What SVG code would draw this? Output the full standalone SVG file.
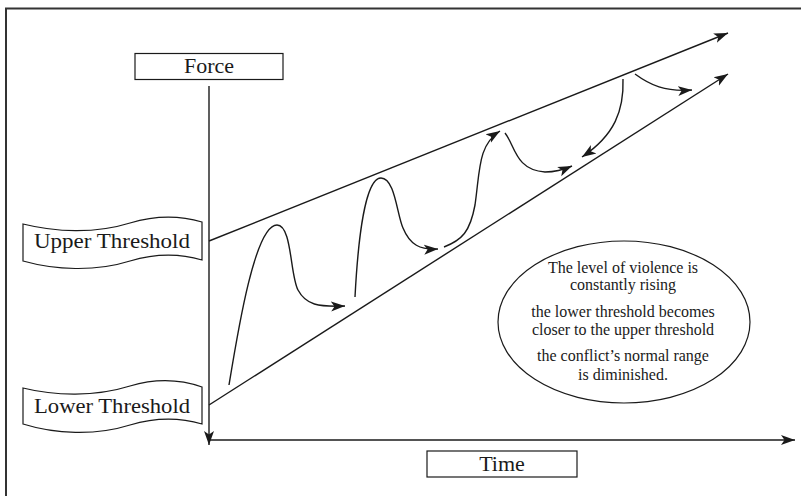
<svg xmlns="http://www.w3.org/2000/svg" width="801" height="496" viewBox="0 0 801 496">
<style>
.ln{fill:none;stroke:#1a1a1a;stroke-width:1.4}
.box{fill:#fff;stroke:#1a1a1a;stroke-width:1.2}
.lbl{font-family:"Liberation Serif","Times New Roman",serif;font-size:22px;fill:#1a1a1a;text-anchor:middle}
.note{font-family:"Liberation Serif","Times New Roman",serif;font-size:16px;fill:#1a1a1a;text-anchor:middle}
</style>
<defs>
<marker id="ah" markerUnits="userSpaceOnUse" markerWidth="16" markerHeight="12" refX="14" refY="5" orient="auto" viewBox="0 0 16 10">
<path d="M0,0 L14,5 L0,10 L3.5,5 Z" fill="#1a1a1a"/>
</marker>
</defs>
<rect x="6" y="8.5" width="900" height="600" fill="none" stroke="#333" stroke-width="2"/>
<g id="connectors">
<path class="ln" d="M209,86 L209,445" marker-end="url(#ah)"/>
<path class="ln" d="M209,440 L795,440" marker-end="url(#ah)"/>
<path class="ln" d="M209,241 L728,33" marker-end="url(#ah)"/>
<path class="ln" d="M209,405 L728,74" marker-end="url(#ah)"/>
<path class="ln" d="M229,385 C238,330 255,225 277,225 C292,225 290,275 298,290 C306,305 318,307 345,306" marker-end="url(#ah)"/>
<path class="ln" d="M355,297 C358,240 365,178 381,178 C395,178 397,215 403,228 C410,245 420,250 438,249" marker-end="url(#ah)"/>
<path class="ln" d="M444,247 C462,240 470,232 475,205 C480,170 478,145 500,131" marker-end="url(#ah)"/>
<path class="ln" d="M505,133 C515,145 515,170 545,172 C555,172 563,170 572,166" marker-end="url(#ah)"/>
<path class="ln" d="M623,79 C624,110 615,135 582,157" marker-end="url(#ah)"/>
<path class="ln" d="M635,74 C650,85 665,92 692,90" marker-end="url(#ah)"/>
</g>
<g id="force">
<rect class="box" x="135" y="53.5" width="148" height="26"/>
<text class="lbl" x="209" y="73">Force</text>
</g>
<g id="time">
<rect class="box" x="427" y="451" width="150" height="26"/>
<text class="lbl" x="502" y="471">Time</text>
</g>
<g id="upper">
<path class="box" d="M23,224 C55,232 95,234 130,223 C160,214 185,217 202,222 L202,260 C185,255 160,252 130,261 C95,272 55,270 23,261 Z"/>
<text class="lbl" x="112" y="248" textLength="156" lengthAdjust="spacingAndGlyphs">Upper Threshold</text>
</g>
<g id="lower">
<path class="box" d="M23,388 C55,396 95,397 130,386 C160,377 185,381 202,387 L202,424 C185,419 160,416 130,425 C95,436 55,434 23,424 Z"/>
<text class="lbl" x="112" y="413" textLength="156" lengthAdjust="spacingAndGlyphs">Lower Threshold</text>
</g>
<g id="note">
<ellipse cx="624" cy="322" rx="126" ry="81" fill="none" stroke="#1a1a1a" stroke-width="1.2"/>
<text class="note" x="623" y="273">The level of violence is</text>
<text class="note" x="623" y="290">constantly rising</text>
<text class="note" x="623" y="317">the lower threshold becomes</text>
<text class="note" x="623" y="335">closer to the upper threshold</text>
<text class="note" x="623" y="361">the conflict’s normal range</text>
<text class="note" x="623" y="380">is diminished.</text>
</g>
</svg>
